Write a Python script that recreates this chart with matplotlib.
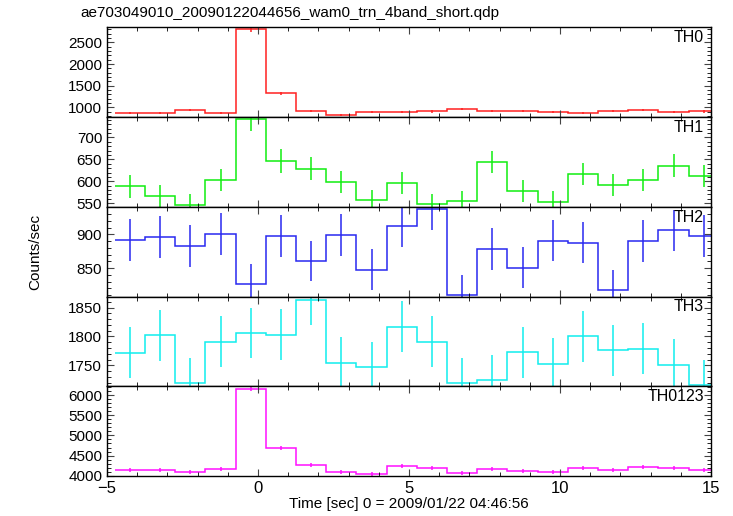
import numpy as np
import matplotlib
matplotlib.use('Agg')
import matplotlib.pyplot as plt
from matplotlib.ticker import MultipleLocator

plt.rcParams['font.family'] = ['Liberation Sans', 'DejaVu Sans']

# time bin centres (sec since 2009/01/22 04:46:56), 1 s bins
t = [-4.24, -3.24, -2.24, -1.24, -0.24, 0.76, 1.76, 2.76, 3.76, 4.76,
     5.76, 6.76, 7.76, 8.76, 9.76, 10.76, 11.76, 12.76, 13.76, 14.76]
binwidth = 1.0

th0 = [862, 877, 946, 862, 2800, 1331, 915, 831, 885, 885,
       908, 969, 923, 923, 885, 862, 915, 938, 885, 908]
th0_err = [25, 25, 26, 25, 60, 35, 26, 24, 25, 25,
           26, 26, 26, 26, 25, 25, 26, 26, 25, 26]

th1 = [589, 567, 547, 602, 742, 647, 629, 599, 557, 596,
       548, 555, 644, 579, 554, 617, 592, 603, 635, 612]
th1_err = [26, 25, 24, 25, 28, 27, 26, 25, 24, 25,
           24, 24, 26, 25, 24, 25, 25, 25, 26, 25]

th2 = [892, 896, 883, 901, 826, 898, 861, 899, 848, 912,
       938, 810, 878, 851, 891, 888, 818, 890, 906, 898]
th2_err = [31, 31, 31, 31, 30, 31, 30, 31, 30, 31,
           32, 30, 31, 30, 31, 31, 30, 31, 31, 31]

th3 = [1772, 1802, 1719, 1791, 1806, 1803, 1863, 1755, 1747, 1817,
       1791, 1719, 1725, 1773, 1753, 1800, 1776, 1779, 1751, 1717]
th3_err = [44, 44, 43, 44, 44, 44, 44, 44, 43, 44,
           44, 43, 43, 44, 44, 44, 44, 44, 44, 43]

th0123 = [4140, 4150, 4095, 4175, 6164, 4689, 4270, 4100, 4035, 4235,
          4190, 4060, 4170, 4125, 4090, 4190, 4130, 4210, 4190, 4145]
th0123_err = [50, 50, 50, 50, 60, 55, 50, 50, 49, 50,
              50, 50, 50, 50, 50, 50, 50, 50, 50, 50]

panels = [
    ('TH0', th0, th0_err, '#ff2020', (777, 2846), 500, 100),
    ('TH1', th1, th1_err, '#10ee10', (542, 746), 50, 10),
    ('TH2', th2, th2_err, '#2828f0', (808, 941), 50, 10),
    ('TH3', th3, th3_err, '#10eeee', (1714, 1869), 50, 10),
    ('TH0123', th0123, th0123_err, '#ff10ff', (3992, 6221), 500, 100),
]

fig, axes = plt.subplots(5, 1, sharex=True, figsize=(7.33, 5.16), dpi=100)
fig.subplots_adjust(left=0.146, right=0.970, top=0.947, bottom=0.0775, hspace=0)

tc = np.array(t)
edges = np.append(tc - binwidth / 2, tc[-1] + binwidth / 2)

for ax, (name, vals, errs, col, ylim, major, minor) in zip(axes, panels):
    ax.stairs(vals, edges, baseline=None, color=col, lw=1.1)
    ax.errorbar(tc, vals, yerr=errs, fmt='none', ecolor=col, elinewidth=1.1, capsize=0)
    ax.set_xlim(-5, 15)
    ax.set_ylim(*ylim)
    ax.yaxis.set_major_locator(MultipleLocator(major))
    ax.yaxis.set_minor_locator(MultipleLocator(minor))
    ax.xaxis.set_major_locator(MultipleLocator(5))
    ax.xaxis.set_minor_locator(MultipleLocator(1))
    ax.tick_params(which='both', direction='in', top=True, right=True,
                   labelsize=11)
    ax.tick_params(which='major', length=5, color='#444444')
    ax.tick_params(which='minor', length=3)
    ax.tick_params(axis='x', labelsize=12)
    for s in ax.spines.values():
        s.set_linewidth(1.0)
    ax.text(0.988, 0.885, name, transform=ax.transAxes, ha='right', va='center',
            fontsize=11.5)

axes[-1].set_xlabel('Time [sec] 0 = 2009/01/22 04:46:56', fontsize=11, labelpad=1)
fig.text(0.048, 0.512, 'Counts/sec', rotation=90, ha='center', va='center', fontsize=11)
fig.text(0.109, 0.975, 'ae703049010_20090122044656_wam0_trn_4band_short.qdp',
         ha='left', va='center', fontsize=11)

fig.savefig('out.png', dpi=100)
